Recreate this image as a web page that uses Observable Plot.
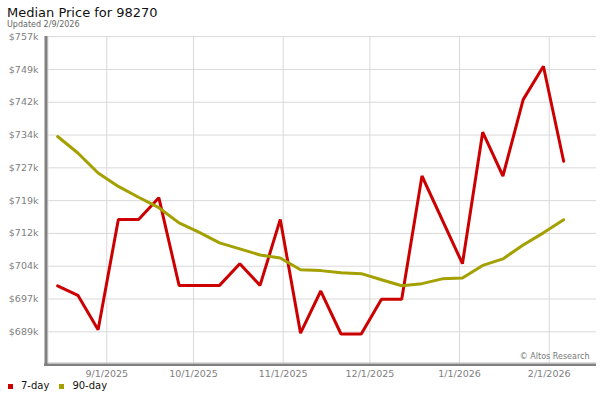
<!DOCTYPE html>
<html>
<head>
<meta charset="utf-8">
<script src="https://cdn.jsdelivr.net/npm/d3@7"></script>
<script src="https://cdn.jsdelivr.net/npm/@observablehq/plot@0.6"></script>
<style>
  html, body { margin: 0; padding: 0; background: #fff; }
  #wrap { position: relative; width: 600px; height: 400px; font-family: "DejaVu Sans", sans-serif; overflow: hidden; }
  #title { position: absolute; left: 7px; top: 6px; font-size: 13px; line-height: 13px; color: #111; white-space: nowrap; }
  #subtitle { position: absolute; left: 7px; top: 21px; font-size: 8px; line-height: 8px; color: #666; white-space: nowrap; }
  #chart { position: absolute; left: 0; top: 30px; }
  #legend { position: absolute; left: 8px; top: 380px; font-size: 10px; line-height: 12px; color: #111; display: flex; align-items: center; white-space: nowrap; }
  .sw { display: inline-block; width: 5px; height: 5px; margin-right: 8px; }
  .item { display: flex; align-items: center; margin-right: 10px; }
</style>
</head>
<body>
<div id="wrap">
  <div id="title">Median Price for 98270</div>
  <div id="subtitle">Updated 2/9/2026</div>
  <div id="chart"></div>
  <div id="legend"></div>
</div>
<script>
// ---- data ----
const dates = [
  "2025-08-15","2025-08-22","2025-08-29","2025-09-05","2025-09-12","2025-09-19","2025-09-26",
  "2025-10-03","2025-10-10","2025-10-17","2025-10-24","2025-10-31","2025-11-07","2025-11-14",
  "2025-11-21","2025-11-28","2025-12-05","2025-12-12","2025-12-19","2025-12-26","2026-01-02",
  "2026-01-09","2026-01-16","2026-01-23","2026-01-30","2026-02-06"
];
const sevenDay = [
  699600, 697400, 689500, 714900, 714900, 719900, 699700,
  699700, 699700, 704700, 699700, 714900, 688700, 698400,
  688500, 688500, 696500, 696500, 724900, null, 704700,
  735000, 724900, 742500, 750200, 728300
];
const ninetyDay = [
  734000, 730200, 725600, 722500, 720000, 717600, 714100,
  711900, 709500, 708100, 706700, 706000, 703300, 703100,
  702600, 702400, 701000, 699600, 700100, 701200, 701400,
  704300, 705800, 709000, 711800, 714800
];
const seriesNames = ["7-day", "90-day"];
const seriesColors = ["#cc0000", "#a3a000"];
const yTicks = [689000, 696556, 704111, 711667, 719222, 726778, 734333, 741889, 749444, 757000];
const xTicks = ["2025-09-01","2025-10-01","2025-11-01","2025-12-01","2026-01-01","2026-02-01"];
const xDomain = ["2025-08-11T03:36:00Z", "2026-02-17T08:38:00Z"];
const yDomain = [681470, 757040];

// ---- build ----
const parse = s => new Date(s.length === 10 ? s + "T00:00:00Z" : s);
const rows = [];
dates.forEach((d, i) => {
  if (sevenDay[i] != null) rows.push({date: parse(d), value: sevenDay[i], series: seriesNames[0]});
});
dates.forEach((d, i) => {
  if (ninetyDay[i] != null) rows.push({date: parse(d), value: ninetyDay[i], series: seriesNames[1]});
});
const xd = xDomain.map(parse);
const xt = xTicks.map(parse);
const fmtDate = d => `${d.getUTCMonth() + 1}/${d.getUTCDate()}/${d.getUTCFullYear()}`;
const fmtY = v => "$" + Math.round(v / 1000) + "k";

const plot = Plot.plot({
  width: 600,
  height: 350,
  marginLeft: 46,
  marginRight: 4,
  marginTop: 6,
  marginBottom: 16,
  style: {fontFamily: "DejaVu Sans, sans-serif", fontSize: "9.5px", color: "#808080", background: "transparent"},
  x: {type: "utc", domain: xd},
  y: {domain: yDomain},
  color: {domain: seriesNames, range: seriesColors},
  marks: [
    Plot.gridX(xt, {stroke: "#d9d9d9", strokeOpacity: 1, strokeWidth: 1}),
    Plot.gridY(yTicks, {stroke: "#d9d9d9", strokeOpacity: 1, strokeWidth: 1}),
    Plot.axisY(yTicks, {tickSize: 0, tickPadding: 8, tickFormat: fmtY, label: null, fill: "#808080"}),
    Plot.axisX(xt, {tickSize: 0, tickPadding: 6, tickFormat: fmtDate, label: null, fill: "#808080"}),
    Plot.ruleX([xd[0]], {stroke: "#dddddd", strokeWidth: 1, dx: 1.5}),
    Plot.ruleY([yDomain[0]], {stroke: "#dddddd", strokeWidth: 1, dy: -2}),
    Plot.ruleX([xd[0]], {stroke: "#808080", strokeWidth: 3, dx: -0.5}),
    Plot.ruleY([yDomain[0]], {stroke: "#808080", strokeWidth: 2.5, x1: xd[0], x2: xd[1], insetLeft: -2, dy: 0.3}),
    Plot.line(rows, {x: "date", y: "value", stroke: "series", z: "series", strokeWidth: 3, curve: "linear", strokeLinejoin: "miter"}),
    Plot.text(["© Altos Research"], {frameAnchor: "bottom-right", dx: -7, dy: -6, fill: "#777", fontSize: 8, textAnchor: "end"})
  ]
});
document.getElementById("chart").appendChild(plot);

const legend = document.getElementById("legend");
seriesNames.forEach((name, i) => {
  const item = document.createElement("span");
  item.className = "item";
  const sw = document.createElement("span");
  sw.className = "sw";
  sw.style.background = seriesColors[i];
  item.appendChild(sw);
  item.appendChild(document.createTextNode(name));
  legend.appendChild(item);
});
</script>
</body>
</html>
